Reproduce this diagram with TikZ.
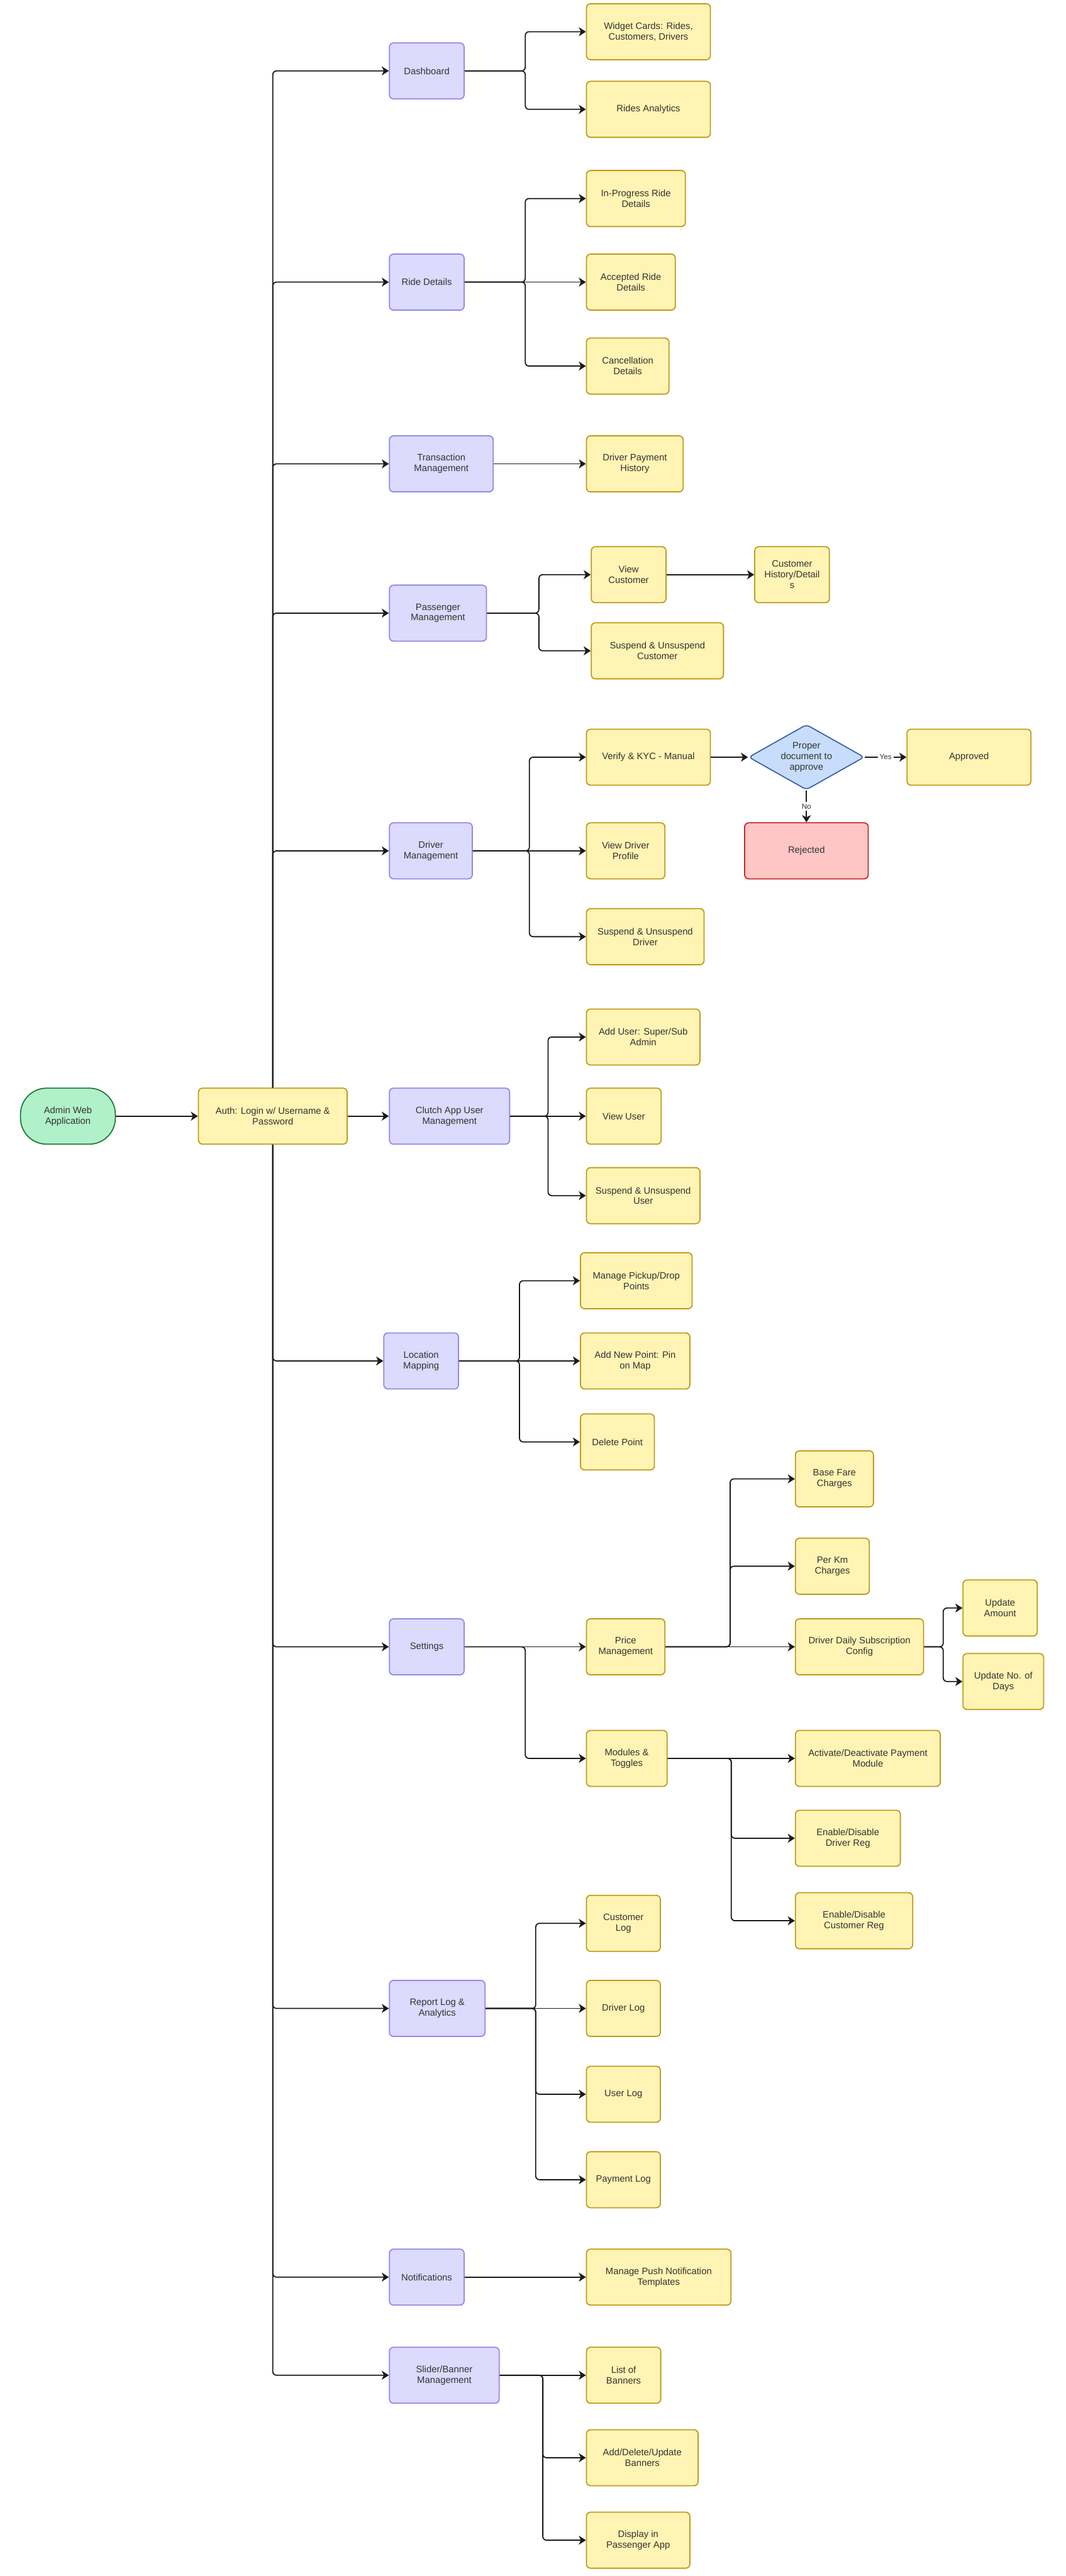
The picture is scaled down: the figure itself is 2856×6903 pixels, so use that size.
\documentclass[tikz,border=0pt]{standalone}
\usepackage{fontspec}
\setmainfont{Liberation Sans}
\usepackage{xcolor}
\usepackage{tikz}
\usetikzlibrary{arrows.meta, calc, shapes.geometric}

\definecolor{catfill}{HTML}{DCDAFD}
\definecolor{catline}{HTML}{9487E6}
\definecolor{leaffill}{HTML}{FFF4B3}
\definecolor{leafline}{HTML}{BF9A1A}
\definecolor{startfill}{HTML}{B1F1C9}
\definecolor{startline}{HTML}{1F7A38}
\definecolor{decfill}{HTML}{C7DDFB}
\definecolor{decline}{HTML}{3D63AA}
\definecolor{rejfill}{HTML}{FFC6C6}
\definecolor{rejline}{HTML}{C62828}
\definecolor{txt}{HTML}{333333}
\definecolor{lnk}{HTML}{1A1A1A}

\begin{document}
\begin{tikzpicture}[
        x=0.01cm, y=-0.01cm,
        font=\fontsize{7.1}{8.1}\selectfont,
        box/.style={rectangle, draw, rounded corners=0.11cm, line width=0.03cm, minimum height=1.5cm, inner sep=0pt, align=center, text=txt},
        cat/.style={box, fill=catfill, draw=catline, anchor=west},
        leaf/.style={box, fill=leaffill, draw=leafline, anchor=west},
        arrow/.style={-{Stealth[length=0.19cm, width=0.24cm, inset=0.055cm]}, line width=0.03cm, draw=lnk, rounded corners=0.1cm},
        lbl/.style={fill=white, inner sep=0.05cm, font=\fontsize{5.6}{6.5}\selectfont, text=txt}
    ]

    % Page
    \fill[white] (0,0) rectangle (2856,6903);
    \useasboundingbox (0,0) rectangle (2856,6903);

    % Entry
    \node[box, fill=startfill, draw=startline, rounded corners=0.7cm, minimum width=2.54cm] (admin) at (182,2991) {Admin Web\\Application};
    \node[box, fill=leaffill, draw=leafline, minimum width=3.98cm] (auth) at (731,2991) {Auth: Login w/ Username \&\\Password};

    % Modules
    \node[cat, minimum width=2cm] (dash) at (1042,190) {Dashboard};
    \node[cat, minimum width=2cm] (ride) at (1042,756) {Ride Details};
    \node[cat, minimum width=2.78cm] (trans) at (1042,1243) {Transaction\\Management};
    \node[cat, minimum width=2.6cm] (pass) at (1042,1643) {Passenger\\Management};
    \node[cat, minimum width=2.22cm] (driver) at (1042,2280) {Driver\\Management};
    \node[cat, minimum width=3.22cm] (clutch) at (1042,2991) {Clutch App User\\Management};
    \node[cat, minimum width=2cm] (loc) at (1027,3647) {Location\\Mapping};
    \node[cat, minimum width=2cm] (settings) at (1042,4413) {Settings};
    \node[cat, minimum width=2.56cm] (report) at (1042,5382) {Report Log \&\\Analytics};
    \node[cat, minimum width=2cm] (notif) at (1042,6102) {Notifications};
    \node[cat, minimum width=2.94cm] (slider) at (1042,6365) {Slider/Banner\\Management};

    % Dashboard
    \node[leaf, minimum width=3.32cm] (widget) at (1570,85) {Widget Cards: Rides,\\Customers, Drivers};
    \node[leaf, minimum width=3.32cm] (ranalytics) at (1570,293) {Rides Analytics};

    % Ride details
    \node[leaf, minimum width=2.65cm] (inprog) at (1570,532) {In-Progress Ride\\Details};
    \node[leaf, minimum width=2.38cm] (accepted) at (1570,756) {Accepted Ride\\Details};
    \node[leaf, minimum width=2.21cm] (cancel) at (1570,981) {Cancellation\\Details};

    % Transactions
    \node[leaf, minimum width=2.59cm] (payhist) at (1570,1243) {Driver Payment\\History};

    % Passengers
    \node[leaf, minimum width=2cm] (viewcust) at (1583,1540) {View\\Customer};
    \node[leaf, minimum width=2cm] (custhist) at (2021,1540) {Customer\\History/Detail\\s};
    \node[leaf, minimum width=3.54cm] (suscust) at (1583,1744) {Suspend \& Unsuspend\\Customer};

    % Drivers
    \node[leaf, minimum width=3.32cm] (verify) at (1570,2029) {Verify \& KYC - Manual};
    \node[diamond, draw=decline, fill=decfill, line width=0.03cm, rounded corners=0.1cm, aspect=1.77, minimum width=3.1cm, minimum height=1.75cm, inner sep=0pt, align=center, text=txt] (dec) at (2161,2029) {Proper\\document to\\approve};
    \node[leaf, minimum width=3.32cm] (approved) at (2429,2029) {Approved};
    \node[box, fill=rejfill, draw=rejline, minimum width=3.31cm] (rejected) at (2161,2280) {Rejected};
    \node[leaf, minimum width=2.1cm] (viewdrv) at (1570,2280) {View Driver\\Profile};
    \node[leaf, minimum width=3.15cm] (susdrv) at (1570,2510) {Suspend \& Unsuspend\\Driver};

    % App users
    \node[leaf, minimum width=3.04cm] (adduser) at (1570,2779) {Add User: Super/Sub\\Admin};
    \node[leaf, minimum width=2cm] (viewuser) at (1570,2991) {View User};
    \node[leaf, minimum width=3.04cm] (sususer) at (1570,3204) {Suspend \& Unsuspend\\User};

    % Locations
    \node[leaf, minimum width=2.99cm] (pickup) at (1554,3432) {Manage Pickup/Drop\\Points};
    \node[leaf, minimum width=2.93cm] (newpoint) at (1554,3647) {Add New Point: Pin\\on Map};
    \node[leaf, minimum width=1.98cm] (delpoint) at (1554,3864) {Delete Point};

    % Settings
    \node[leaf, minimum width=2.1cm] (price) at (1570,4413) {Price\\Management};
    \node[leaf, minimum width=2.16cm] (toggles) at (1570,4712) {Modules \&\\Toggles};
    \node[leaf, minimum width=2.09cm] (basefare) at (2130,3963) {Base Fare\\Charges};
    \node[leaf, minimum width=1.98cm] (perkm) at (2130,4197) {Per Km\\Charges};
    \node[leaf, minimum width=3.43cm] (daily) at (2130,4413) {Driver Daily Subscription\\Config};
    \node[leaf, minimum width=1.99cm] (updamt) at (2579,4309) {Update\\Amount};
    \node[leaf, minimum width=2.16cm] (upddays) at (2579,4506) {Update No. of\\Days};
    \node[leaf, minimum width=3.88cm] (paymod) at (2130,4712) {Activate/Deactivate Payment\\Module};
    \node[leaf, minimum width=2.81cm] (drvreg) at (2130,4926) {Enable/Disable\\Driver Reg};
    \node[leaf, minimum width=3.14cm] (custreg) at (2130,5147) {Enable/Disable\\Customer Reg};

    % Reports
    \node[leaf, minimum width=1.98cm] (custlog) at (1570,5154) {Customer\\Log};
    \node[leaf, minimum width=1.98cm] (drvlog) at (1570,5382) {Driver Log};
    \node[leaf, minimum width=1.98cm] (userlog) at (1570,5612) {User Log};
    \node[leaf, minimum width=1.98cm] (paylog) at (1570,5841) {Payment Log};

    % Notifications
    \node[leaf, minimum width=3.87cm] (push) at (1570,6102) {Manage Push Notification\\Templates};

    % Banners
    \node[leaf, minimum width=1.99cm] (banners) at (1570,6365) {List of\\Banners};
    \node[leaf, minimum width=2.99cm] (editban) at (1570,6586) {Add/Delete/Update\\Banners};
    \node[leaf, minimum width=2.77cm] (display) at (1570,6807) {Display in\\Passenger App};

    % Fork points
    \coordinate (fdash) at ($(dash.east)!.5!(widget.west)$);
    \coordinate (fride) at ($(ride.east)!.5!(accepted.west)$);
    \coordinate (fpass) at ($(pass.east)!.5!(viewcust.west)$);
    \coordinate (fdriver) at ($(driver.east)!.5!(verify.west)$);
    \coordinate (fclutch) at ($(clutch.east)!.5!(viewuser.west)$);
    \coordinate (floc) at ($(loc.east)!.5!(newpoint.west)$);
    \coordinate (fsettings) at ($(settings.east)!.5!(price.west)$);
    \coordinate (fprice) at ($(price.east)!.5!(daily.west)$);
    \coordinate (fdaily) at ($(daily.east)!.5!(updamt.west)$);
    \coordinate (ftoggles) at ($(toggles.east)!.5!(paymod.west)$);
    \coordinate (freport) at ($(report.east)!.5!(drvlog.west)$);
    \coordinate (fslider) at ($(slider.east)!.5!(banners.west)$);

    % Entry links
    \draw[arrow] (admin.east) -- (auth.west);
    \draw[arrow] (auth.east) -- (clutch.west);

    % Trunk
    \draw[arrow] (auth.north) |- (dash.west);
    \draw[arrow] (auth.north) |- (ride.west);
    \draw[arrow] (auth.north) |- (trans.west);
    \draw[arrow] (auth.north) |- (pass.west);
    \draw[arrow] (auth.north) |- (driver.west);
    \draw[arrow] (auth.south) |- (loc.west);
    \draw[arrow] (auth.south) |- (settings.west);
    \draw[arrow] (auth.south) |- (report.west);
    \draw[arrow] (auth.south) |- (notif.west);
    \draw[arrow] (auth.south) |- (slider.west);

    % Dashboard
    \draw[arrow] (dash.east) -- (dash.east -| fdash) |- (widget.west);
    \draw[arrow] (dash.east) -- (dash.east -| fdash) |- (ranalytics.west);

    % Ride details
    \draw[arrow] (ride.east) -- (ride.east -| fride) |- (inprog.west);
    \draw[arrow] (ride.east) -- (accepted.west);
    \draw[arrow] (ride.east) -- (ride.east -| fride) |- (cancel.west);

    % Transactions
    \draw[arrow] (trans.east) -- (payhist.west);

    % Passengers
    \draw[arrow] (pass.east) -- (pass.east -| fpass) |- (viewcust.west);
    \draw[arrow] (pass.east) -- (pass.east -| fpass) |- (suscust.west);
    \draw[arrow] (viewcust.east) -- (custhist.west);

    % Drivers
    \draw[arrow] (driver.east) -- (driver.east -| fdriver) |- (verify.west);
    \draw[arrow] (driver.east) -- (viewdrv.west);
    \draw[arrow] (driver.east) -- (driver.east -| fdriver) |- (susdrv.west);
    \draw[arrow] (verify.east) -- (dec.west);
    \draw[arrow] (dec.east) -- node[lbl] {Yes} (approved.west);
    \draw[arrow] (dec.south) -- node[lbl] {No} (rejected.north);

    % App users
    \draw[arrow] (clutch.east) -- (clutch.east -| fclutch) |- (adduser.west);
    \draw[arrow] (clutch.east) -- (viewuser.west);
    \draw[arrow] (clutch.east) -- (clutch.east -| fclutch) |- (sususer.west);

    % Locations
    \draw[arrow] (loc.east) -- (loc.east -| floc) |- (pickup.west);
    \draw[arrow] (loc.east) -- (newpoint.west);
    \draw[arrow] (loc.east) -- (loc.east -| floc) |- (delpoint.west);

    % Settings
    \draw[arrow] (settings.east) -- (price.west);
    \draw[arrow] (settings.east) -- (settings.east -| fsettings) |- (toggles.west);
    \draw[arrow] (price.east) -- (price.east -| fprice) |- (basefare.west);
    \draw[arrow] (price.east) -- (price.east -| fprice) |- (perkm.west);
    \draw[arrow] (price.east) -- (daily.west);
    \draw[arrow] (daily.east) -- (daily.east -| fdaily) |- (updamt.west);
    \draw[arrow] (daily.east) -- (daily.east -| fdaily) |- (upddays.west);
    \draw[arrow] (toggles.east) -- (paymod.west);
    \draw[arrow] (toggles.east) -- (toggles.east -| ftoggles) |- (drvreg.west);
    \draw[arrow] (toggles.east) -- (toggles.east -| ftoggles) |- (custreg.west);

    % Reports
    \draw[arrow] (report.east) -- (report.east -| freport) |- (custlog.west);
    \draw[arrow] (report.east) -- (drvlog.west);
    \draw[arrow] (report.east) -- (report.east -| freport) |- (userlog.west);
    \draw[arrow] (report.east) -- (report.east -| freport) |- (paylog.west);

    % Notifications
    \draw[arrow] (notif.east) -- (push.west);

    % Banners
    \draw[arrow] (slider.east) -- (banners.west);
    \draw[arrow] (slider.east) -- (slider.east -| fslider) |- (editban.west);
    \draw[arrow] (slider.east) -- (slider.east -| fslider) |- (display.west);

\end{tikzpicture}
\end{document}
